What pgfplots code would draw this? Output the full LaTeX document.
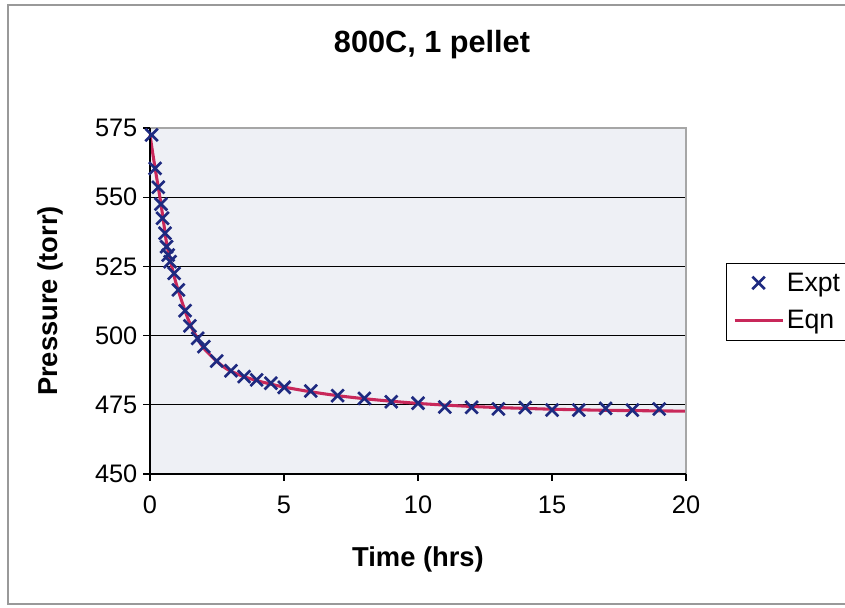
\documentclass[border=0pt]{standalone}
\usepackage{pgfplots}
\pgfplotsset{compat=1.18}
\usepackage{fontspec}
\setmainfont{Liberation Sans}
\definecolor{exptblue}{HTML}{1E2A80}
\definecolor{eqnred}{HTML}{C8285A}
\definecolor{plotbg}{HTML}{EEF0F5}
\begin{document}
\begin{tikzpicture}[x=0.75pt,y=0.75pt]
\useasboundingbox (0,0) rectangle (845,607);
\fill[white] (0,0) rectangle (845,607);
\draw[gray!80, line width=0.8pt] (8,3) rectangle (900,602);
\begin{axis}[
  at={(112.5pt,99.75pt)}, anchor=south west,
  width=402pt, height=259.5pt, scale only axis,
  xmin=0, xmax=20, ymin=450, ymax=575,
  xtick={0,5,10,15,20}, ytick={450,475,500,525,550,575},
  tick pos=left, tick align=outside,
  major tick length=5pt,
  tick style={black, line width=0.8pt},
  ymajorgrids, grid style={black, line width=0.8pt},
  axis line style={draw=none},
  axis background/.style={fill=plotbg},
  /pgf/number format/assume math mode=true,
  ticklabel style={font=\fontsize{19}{19}\selectfont},
  xticklabel style={yshift=-8pt},
  yticklabel style={xshift=-1pt},
  xlabel={Time (hrs)}, ylabel={Pressure (torr)},
  label style={font=\fontsize{20.5}{20.5}\selectfont\bfseries},
  xlabel style={at={(axis description cs:0.5,0)}, anchor=base, yshift=-69.5pt},
  ylabel style={at={(axis description cs:-0.1735,0.5)}, anchor=base},
  clip=false,
  legend style={at={(axis description cs:1.0746,0.6098)}, anchor=north west,
    draw=black, line width=0.6pt, font=\fontsize{20}{20}\selectfont,
    row sep=9pt, inner sep=5pt, legend cell align=left},
  legend image code/.code={\draw[mark repeat=2, mark phase=2, #1] plot coordinates {(0pt,0pt) (18pt,0pt) (36pt,0pt)};},
]
\addplot[only marks, mark=x, mark size=6.6pt, exptblue, line width=2pt] coordinates {
(0.06,572.5) (0.19,560.4) (0.31,553.6) (0.41,547.5) (0.47,542.4) (0.56,537.0)
(0.62,532.1) (0.68,529.1) (0.75,526.7) (0.90,522.5) (1.06,516.5) (1.31,509.0)
(1.49,503.5) (1.78,499.0) (2.01,496.0) (2.49,490.8) (3.02,487.3) (3.51,485.2)
(3.98,484.0) (4.51,482.8) (5.01,481.3) (6,480.0) (7,478.3) (8,477.3) (9,476.1)
(10,475.6) (11,474.2) (12,474.1) (13,473.5) (14,474.0) (15,473.1) (16,473.1)
(17,473.7) (18,473.1) (19,473.5)
};
\addlegendentry{Expt}
\addplot[eqnred, line width=2.3pt, smooth, mark=none] coordinates {
(0,572.5) (0.1,566) (0.19,560.5) (0.31,553.5) (0.41,547.5) (0.5,541.5)
(0.6,534.5) (0.7,529.5) (0.8,525.5) (0.9,521.5) (1.0,518) (1.2,512)
(1.4,506.5) (1.6,502) (1.8,498.5) (2.0,495.5) (2.25,493) (2.5,490.6)
(2.75,488.7) (3.0,487.2) (3.5,485.2) (4.0,483.7) (4.5,482.5) (5,481.4)
(6,479.7) (7,478.3) (8,477.2) (9,476.3) (10,475.5) (11,474.9) (12,474.4)
(13,474.0) (14,473.7) (15,473.4) (16,473.2) (17,473.0) (18,472.9) (19,472.8)
(20,472.7)
};
\addlegendentry{Eqn}
\draw[gray!70, line width=0.8pt] (rel axis cs:0,1) -- (rel axis cs:1,1) -- (rel axis cs:1,0);
\draw[black, line width=0.8pt] (rel axis cs:0,1) -- (rel axis cs:0,0) -- (rel axis cs:1,0);
\end{axis}
\node[anchor=base, font=\fontsize{23}{23}\selectfont\bfseries] at (432,554) {800C, 1 pellet};
\end{tikzpicture}
\end{document}
